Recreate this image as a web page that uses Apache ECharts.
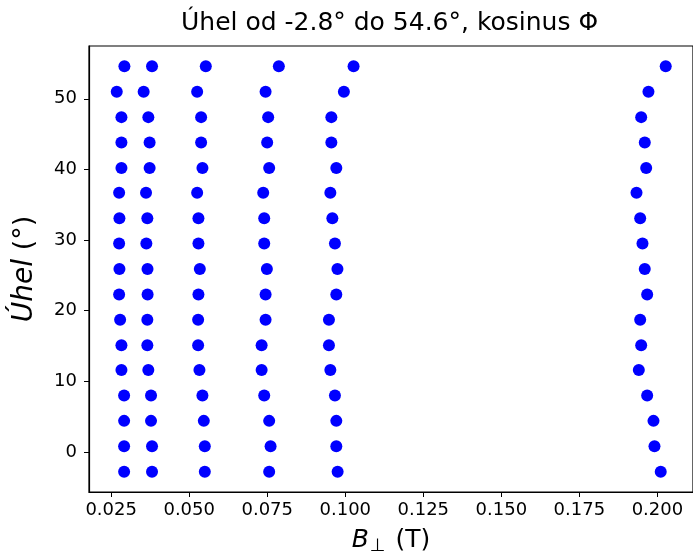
<!DOCTYPE html>
<html>
<head>
<meta charset="utf-8">
<script src="https://cdn.jsdelivr.net/npm/echarts@6/dist/echarts.min.js"></script>
<style>html,body{margin:0;padding:0;background:#fff}#c{width:693px;height:560px}</style>
</head>
<body>
<div id="c"></div>
<script>
const titleText = 'Úhel od -2.8° do 54.6°, kosinus Φ';
const angles = [-2.8, 0.8, 4.4, 8.0, 11.6, 15.1, 18.7, 22.3, 25.9, 29.5, 33.1, 36.7, 40.2, 43.8, 47.4, 51.0, 54.6];
const b1 = [0.02915, 0.02915, 0.02915, 0.02915, 0.02829, 0.02829, 0.02787, 0.02755, 0.02765, 0.02755, 0.02765, 0.02755, 0.02829, 0.02829, 0.02829, 0.02679, 0.02924];
const b2 = [0.03809, 0.03809, 0.03777, 0.03777, 0.03691, 0.03659, 0.03659, 0.03668, 0.03665, 0.03627, 0.03659, 0.03617, 0.03732, 0.03732, 0.03691, 0.03541, 0.03809];
const b3 = [0.05500, 0.05500, 0.05468, 0.05424, 0.05328, 0.05286, 0.05286, 0.05296, 0.05341, 0.05296, 0.05296, 0.05255, 0.05424, 0.05382, 0.05382, 0.05255, 0.05532];
const b4 = [0.07562, 0.07607, 0.07562, 0.07403, 0.07320, 0.07320, 0.07447, 0.07447, 0.07489, 0.07403, 0.07403, 0.07371, 0.07562, 0.07498, 0.07530, 0.07447, 0.07872];
const b5 = [0.09755, 0.09713, 0.09713, 0.09669, 0.09522, 0.09477, 0.09477, 0.09713, 0.09749, 0.09669, 0.09586, 0.09522, 0.09713, 0.09554, 0.09554, 0.09956, 0.10266];
const b6 = [0.20106, 0.19906, 0.19874, 0.19672, 0.19404, 0.19480, 0.19448, 0.19672, 0.19595, 0.19522, 0.19448, 0.19330, 0.19640, 0.19595, 0.19480, 0.19713, 0.20266];
const xTicks = [0.025, 0.050, 0.075, 0.100, 0.125, 0.150, 0.175, 0.200];
const yTicks = [0, 10, 20, 30, 40, 50];
const columns = [b1, b2, b3, b4, b5, b6];

const FONT = 'DejaVu Sans';
const chart = echarts.init(document.getElementById('c'), null, {renderer: 'canvas'});
const series = columns.map(col => ({
  type: 'scatter',
  data: col.map((b, i) => [b, angles[i]]),
  symbolSize: 12,
  itemStyle: {color: '#0000ff', opacity: 1},
  emphasis: {disabled: true},
  animation: false
}));
chart.setOption({
  animation: false,
  backgroundColor: '#ffffff',
  textStyle: {fontFamily: FONT},
  title: {
    text: titleText,
    left: 181, top: 11, padding: 0,
    textStyle: {fontFamily: FONT, fontSize: 25, fontWeight: 'normal', color: '#000'}
  },
  grid: {left: 89, right: -3, top: 46, bottom: 63, show: true, borderColor: '#000', borderWidth: 1.2, backgroundColor: 'transparent'},
  xAxis: {
    type: 'value', min: 0.0179, max: 0.2114,
    splitLine: {show: false},
    axisLine: {show: true, onZero: false, lineStyle: {color: '#000', width: 1.2}},
    axisTick: {show: true, inside: false, length: 5, customValues: xTicks, lineStyle: {color: '#000'}},
    axisLabel: {customValues: xTicks, margin: 9, fontFamily: FONT, fontSize: 18, color: '#000', formatter: v => v.toFixed(3)},
    name: '{i|B}{s|⊥} (T)',
    nameLocation: 'middle', nameGap: 33,
    nameTextStyle: {fontFamily: FONT, fontSize: 25, color: '#000', lineHeight: 30,
      rich: {i: {fontFamily: FONT, fontStyle: 'italic', fontSize: 25, color: '#000', lineHeight: 30},
             s: {fontFamily: FONT, fontSize: 18, color: '#000', verticalAlign: 'bottom', lineHeight: 24, padding: [0, 2, 0, 1]}}}
  },
  yAxis: {
    type: 'value', min: -5.67, max: 57.47,
    splitLine: {show: false},
    axisLine: {show: true, onZero: false, lineStyle: {color: '#000', width: 1.2}},
    axisTick: {show: true, inside: false, length: 5, customValues: yTicks, lineStyle: {color: '#000'}},
    axisLabel: {customValues: yTicks, margin: 12, fontFamily: FONT, fontSize: 18, color: '#000'},
    name: '{i|Úhel} (°)',
    nameLocation: 'middle', nameGap: 50, nameRotate: 90,
    nameTextStyle: {fontFamily: FONT, fontSize: 27, color: '#000',
      rich: {i: {fontFamily: FONT, fontStyle: 'italic', fontSize: 28, color: '#000'}}}
  },
  series: series
});
</script>
</body>
</html>
